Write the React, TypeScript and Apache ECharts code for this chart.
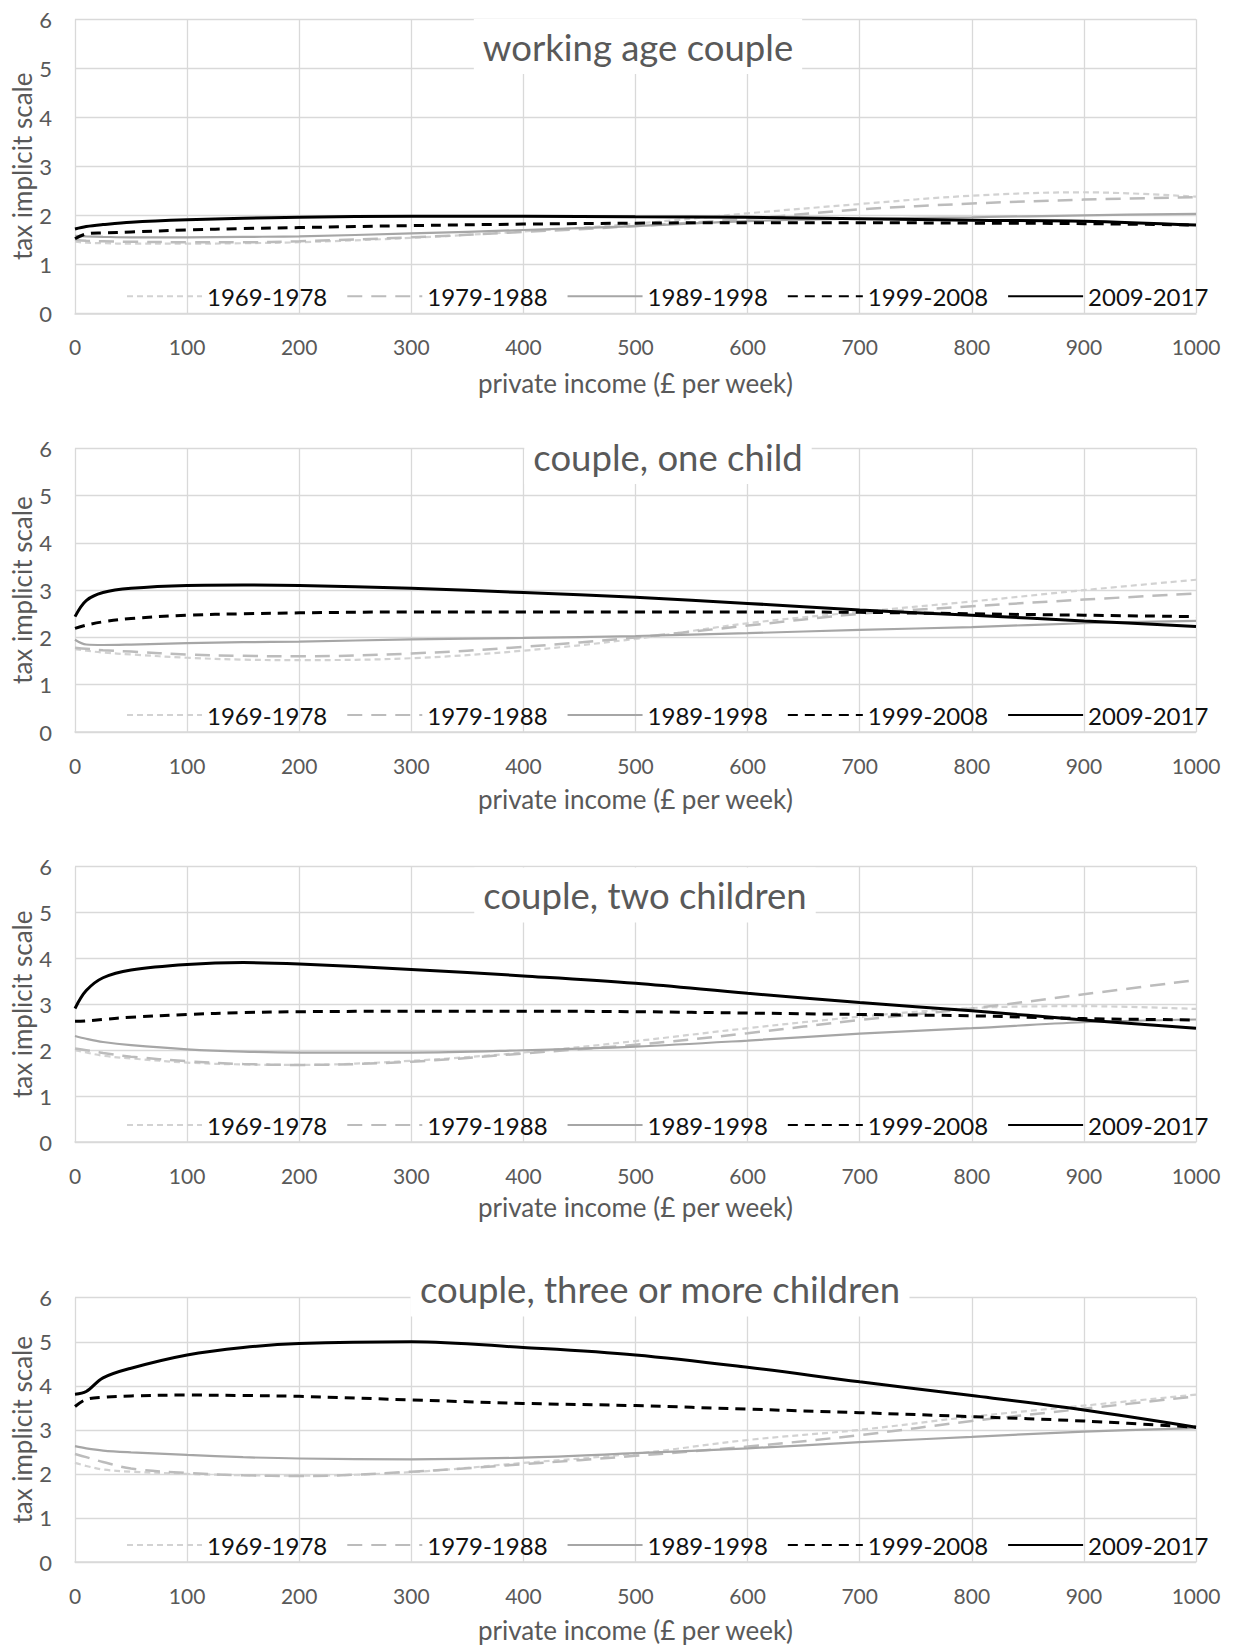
import React, { useEffect, useRef } from "react";
import * as echarts from "echarts";

const X = [0, 10, 25, 50, 100, 150, 200, 300, 400, 500, 600, 700, 800, 900, 1000];
const SERIES_NAMES = ["1969-1978", "1979-1988", "1989-1998", "1999-2008", "2009-2017"];
const PANEL_TITLES = ["working age couple", "couple, one child", "couple, two children", "couple, three or more children"];
const Y_TICKS = [0, 1, 2, 3, 4, 5, 6];
const X_TICKS = [0, 100, 200, 300, 400, 500, 600, 700, 800, 900, 1000];
const X_NAME = "private income (£ per week)";
const Y_NAME = "tax implicit scale";

// panel 1: working age couple
const p1_1969 = [1.46, 1.44, 1.43, 1.42, 1.42, 1.43, 1.45, 1.54, 1.67, 1.83, 2.04, 2.23, 2.4, 2.47, 2.38];
const p1_1979 = [1.5, 1.48, 1.47, 1.46, 1.45, 1.45, 1.47, 1.55, 1.66, 1.78, 1.93, 2.12, 2.24, 2.32, 2.37];
const p1_1989 = [1.58, 1.57, 1.56, 1.55, 1.55, 1.56, 1.57, 1.63, 1.7, 1.78, 1.88, 1.93, 1.96, 2.0, 2.03];
const p1_1999 = [1.52, 1.62, 1.64, 1.66, 1.7, 1.73, 1.75, 1.79, 1.82, 1.84, 1.85, 1.85, 1.84, 1.83, 1.8];
const p1_2009 = [1.72, 1.77, 1.81, 1.86, 1.91, 1.94, 1.96, 1.98, 1.98, 1.97, 1.96, 1.93, 1.9, 1.88, 1.8];

// panel 2: couple, one child
const p2_1969 = [1.75, 1.72, 1.68, 1.64, 1.57, 1.53, 1.52, 1.56, 1.72, 1.97, 2.3, 2.54, 2.76, 3.0, 3.22];
const p2_1979 = [1.78, 1.76, 1.73, 1.7, 1.64, 1.61, 1.6, 1.66, 1.8, 2.0, 2.25, 2.5, 2.66, 2.8, 2.93];
const p2_1989 = [1.95, 1.85, 1.84, 1.85, 1.88, 1.9, 1.91, 1.96, 1.99, 2.03, 2.09, 2.16, 2.22, 2.3, 2.35];
const p2_1999 = [2.19, 2.26, 2.33, 2.4, 2.47, 2.5, 2.52, 2.54, 2.54, 2.54, 2.54, 2.53, 2.5, 2.47, 2.44];
const p2_2009 = [2.44, 2.78, 2.95, 3.04, 3.1, 3.11, 3.1, 3.04, 2.95, 2.85, 2.72, 2.58, 2.47, 2.35, 2.23];

// panel 3: couple, two children
const p3_1969 = [2.0, 1.95, 1.88, 1.82, 1.73, 1.69, 1.68, 1.77, 1.95, 2.2, 2.48, 2.73, 2.92, 2.96, 2.9];
const p3_1979 = [2.04, 2.0, 1.94, 1.86, 1.76, 1.7, 1.68, 1.75, 1.93, 2.12, 2.37, 2.66, 2.91, 3.22, 3.53];
const p3_1989 = [2.31, 2.25, 2.18, 2.11, 2.02, 1.97, 1.95, 1.95, 2.0, 2.08, 2.21, 2.36, 2.48, 2.61, 2.67];
const p3_1999 = [2.63, 2.64, 2.67, 2.72, 2.78, 2.82, 2.84, 2.85, 2.85, 2.84, 2.81, 2.78, 2.75, 2.69, 2.66];
const p3_2009 = [2.91, 3.3, 3.58, 3.75, 3.87, 3.91, 3.88, 3.76, 3.62, 3.46, 3.24, 3.04, 2.86, 2.66, 2.48];

// panel 4: couple, three or more children
const p4_1969 = [2.25, 2.18, 2.1, 2.05, 2.0, 1.97, 1.96, 2.04, 2.25, 2.46, 2.77, 3.0, 3.3, 3.55, 3.8];
const p4_1979 = [2.45, 2.38, 2.27, 2.12, 2.02, 1.97, 1.95, 2.05, 2.22, 2.41, 2.62, 2.88, 3.2, 3.48, 3.76];
const p4_1989 = [2.63, 2.58, 2.53, 2.49, 2.43, 2.38, 2.35, 2.33, 2.37, 2.47, 2.58, 2.72, 2.84, 2.96, 3.04];
const p4_1999 = [3.53, 3.69, 3.74, 3.77, 3.79, 3.78, 3.76, 3.68, 3.6, 3.55, 3.47, 3.39, 3.3, 3.2, 3.06];
const p4_2009 = [3.81, 3.87, 4.18, 4.4, 4.7, 4.87, 4.96, 5.0, 4.87, 4.7, 4.42, 4.09, 3.78, 3.45, 3.06];

const PANELS = [
  [p1_1969, p1_1979, p1_1989, p1_1999, p1_2009],
  [p2_1969, p2_1979, p2_1989, p2_1999, p2_2009],
  [p3_1969, p3_1979, p3_1989, p3_1999, p3_2009],
  [p4_1969, p4_1979, p4_1989, p4_1999, p4_2009],
];

const FONT = "Lato, 'Open Sans', sans-serif";
const GRID_LEFT = 75;
const GRID_WIDTH = 1121;
const GRID_TOPS = [19.3, 448.3, 866.7, 1297.7];
const GRID_HEIGHTS = [294, 283.7, 275.3, 264.3];
const TITLE_POS = [
  [638, 46.5],
  [668, 456.5],
  [645, 895],
  [660, 1289],
];
const XNAME_CENTER = [383, 799, 1207, 1630];

const LINE_STYLES: any[] = [
  { color: "#d2d2d2", width: 2.2, type: [6, 4] },
  { color: "#bcbcbc", width: 2.5, type: [15, 9] },
  { color: "#a6a6a6", width: 2.2, type: "solid" },
  { color: "#000000", width: 3, type: [10, 7] },
  { color: "#000000", width: 3, type: "solid" },
];

export default function App() {
  const ref = useRef<HTMLDivElement>(null);
  useEffect(() => {
    document.body.style.margin = "0";
    const chart = echarts.init(ref.current!, null, { renderer: "svg" });
    const grids: any[] = [];
    const xAxes: any[] = [];
    const yAxes: any[] = [];
    const legends: any[] = [];
    const series: any[] = [];
    const graphics: any[] = [];
    PANELS.forEach((panel, i) => {
      const top = GRID_TOPS[i];
      const h = GRID_HEIGHTS[i];
      const bottomY = top + h;
      grids.push({ left: GRID_LEFT, width: GRID_WIDTH, top, height: h });
      xAxes.push({
        type: "value",
        gridIndex: i,
        min: X_TICKS[0],
        max: X_TICKS[X_TICKS.length - 1],
        interval: 100,
        axisLine: { show: true, lineStyle: { color: "#d9d9d9", width: 1.5 } },
        axisTick: { show: false },
        axisLabel: {
          fontFamily: FONT,
          fontSize: 21,
          color: "#595959",
          margin: 23,
          formatter: (v: number) => String(v),
        },
        splitLine: { show: true, lineStyle: { color: "#d9d9d9", width: 1.3 } },
      });
      yAxes.push({
        type: "value",
        gridIndex: i,
        min: Y_TICKS[0],
        max: Y_TICKS[Y_TICKS.length - 1],
        interval: 1,
        axisLine: { show: false },
        axisTick: { show: false },
        axisLabel: { fontFamily: FONT, fontSize: 22, color: "#595959", margin: 23 },
        splitLine: { show: true, lineStyle: { color: "#d9d9d9", width: 1.3 } },
      });
      legends.push({
        data: SERIES_NAMES,
        left: 126,
        top: bottomY - 16 - 13,
        itemWidth: 75,
        itemHeight: 14,
        itemGap: 19,
        padding: 0,
        selectedMode: false,
        itemStyle: { opacity: 0 },
        textStyle: { fontFamily: FONT, fontSize: 24, color: "#111111" },
      });
      panel.forEach((vals, k) => {
        series.push({
          type: "line",
          name: SERIES_NAMES[k],
          xAxisIndex: i,
          yAxisIndex: i,
          data: X.map((x, j) => [x, vals[j]]),
          showSymbol: false,
          symbol: "none",
          smooth: 0.35,
          lineStyle: LINE_STYLES[k],
          itemStyle: { color: LINE_STYLES[k].color },
          z: 2 + k,
        });
      });
      graphics.push({
        type: "text",
        x: TITLE_POS[i][0],
        y: TITLE_POS[i][1],
        z: 100,
        style: {
          text: PANEL_TITLES[i],
          fill: "#595959",
          fontFamily: FONT,
          fontSize: 36.5,
          align: "center",
          verticalAlign: "middle",
          textAlign: "center",
          textVerticalAlign: "middle",
          backgroundColor: "#ffffff",
          padding: [9, 9],
        },
      });
      graphics.push({
        type: "text",
        x: GRID_LEFT + GRID_WIDTH / 2,
        y: XNAME_CENTER[i],
        z: 100,
        style: {
          text: X_NAME,
          fill: "#595959",
          fontFamily: FONT,
          fontSize: 26,
          align: "center",
          verticalAlign: "middle",
          textAlign: "center",
          textVerticalAlign: "middle",
        },
      });
      graphics.push({
        type: "text",
        x: 22,
        y: top + h / 2,
        rotation: Math.PI / 2,
        z: 100,
        style: {
          text: Y_NAME,
          fill: "#595959",
          fontFamily: FONT,
          fontSize: 26,
          align: "center",
          verticalAlign: "middle",
          textAlign: "center",
          textVerticalAlign: "middle",
        },
      });
    });
    chart.setOption({
      animation: false,
      backgroundColor: "#ffffff",
      grid: grids,
      xAxis: xAxes,
      yAxis: yAxes,
      legend: legends,
      series,
      graphic: graphics,
    });
    return () => chart.dispose();
  }, []);
  return <div ref={ref} style={{ width: 1234, height: 1646 }} />;
}
